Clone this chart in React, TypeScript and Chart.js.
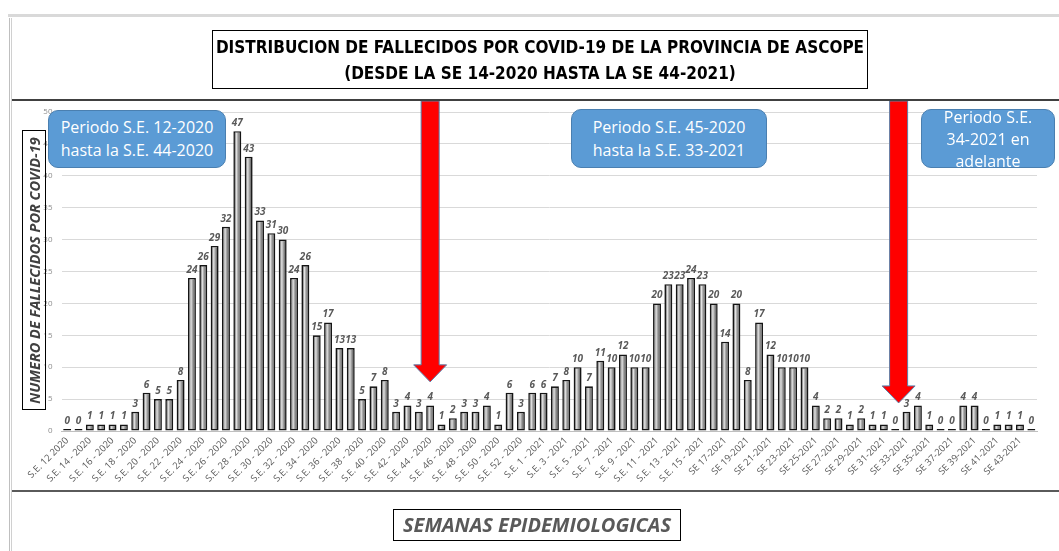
import React, { useEffect, useRef } from "react";
import { Chart, registerables } from "chart.js";
Chart.register(...registerables);

const weekLabels2020: string[] = [
  "S.E. 12 2020", "S.E. 13 - 2020", "S.E. 14 - 2020", "S.E. 15 - 2020", "S.E. 16 - 2020", "S.E. 17 - 2020",
  "S.E. 18 - 2020", "S.E. 19 - 2020", "S.E. 20 - 2020", "S.E. 21 - 2020", "S.E. 22 - 2020", "S.E. 23 - 2020",
  "S.E. 24 - 2020", "S.E. 25 - 2020", "S.E. 26 - 2020", "S.E. 27 - 2020", "S.E. 28 - 2020", "S.E. 29 - 2020",
  "S.E. 30 - 2020", "S.E. 31 - 2020", "S.E. 32 - 2020", "S.E. 33 - 2020", "S.E. 34 - 2020", "S.E. 35 - 2020",
  "S.E. 36 - 2020", "S.E. 37 - 2020", "S.E. 38 - 2020", "S.E. 39 - 2020", "S.E. 40 - 2020", "S.E. 41 - 2020",
  "S.E. 42 - 2020", "S.E. 43 - 2020", "S.E. 44 - 2020", "S.E. 45 - 2020", "S.E. 46 - 2020", "S.E. 47 - 2020",
  "S.E. 48 - 2020", "S.E. 49 - 2020", "S.E. 50 - 2020", "S.E. 51 - 2020", "S.E. 52 - 2020", "S.E. 53 - 2020",
];
const weekLabels2021: string[] = [
  "S.E. 1 - 2021", "S.E. 2 - 2021", "S.E. 3 - 2021", "S.E. 4 - 2021", "S.E. 5 - 2021", "S.E. 6 - 2021",
  "S.E. 7 - 2021", "S.E. 8 - 2021", "S.E. 9 - 2021", "S.E. 10 - 2021", "S.E. 11 - 2021", "S.E. 12 - 2021",
  "S.E. 13 - 2021", "S.E. 14 - 2021", "S.E. 15 - 2021", "S.E. 16 - 2021", "SE 17-2021", "SE 18-2021",
  "SE 19-2021", "SE 20-2021", "SE 21-2021", "SE 22-2021", "SE 23-2021", "SE 24-2021", "SE 25-2021",
  "SE 26-2021", "SE 27-2021", "SE 28-2021", "SE 29-2021", "SE 30-2021", "SE 31-2021", "SE 32-2021",
  "SE 33-2021", "SE 34-2021", "SE 35-2021", "SE 36-2021", "SE 37-2021", "SE 38-2021", "SE 39-2021",
  "SE 40-2021", "SE 41-2021", "SE 42-2021", "SE 43-2021", "SE 44-2021",
];

const deaths2020: number[] = [
  0, 0, 1, 1, 1, 1, 3, 6, 5, 5, 8, 24, 26, 29, 32, 47, 43, 33, 31, 30, 24, 26,
  15, 17, 13, 13, 5, 7, 8, 3, 4, 3, 4, 1, 2, 3, 3, 4, 1, 6, 3, 6,
];
const deaths2021: number[] = [
  6, 7, 8, 10, 7, 11, 10, 12, 10, 10, 20, 23, 23, 24, 23, 20, 14, 20, 8, 17, 12, 10,
  10, 10, 4, 2, 2, 1, 2, 1, 1, 0, 3, 4, 1, 0, 0, 4, 4, 0, 1, 1, 1, 0,
];

const yTicks = { min: 0, max: 50, step: 5 };

const labels = [...weekLabels2020, ...weekLabels2021];
const values = [...deaths2020, ...deaths2021];

// arrows: category index they point at, and the value where the tip sits
const arrowMarks = [
  { index: 32, tipValue: 7.7 },
  { index: 73.3, tipValue: 4.4 },
];

const FONT = '"Open Sans", "DejaVu Sans", sans-serif';

const barShade = {
  id: "barShade",
  afterDatasetsDraw(chart: any) {
    const ctx = chart.ctx;
    const meta = chart.getDatasetMeta(0);
    meta.data.forEach((el: any) => {
      const { x, y, base, width } = el.getProps(["x", "y", "base", "width"], true);
      const l = x - width / 2;
      const top = Math.min(y, base);
      const bot = Math.max(y, base);
      if (bot - top < 4) return;
      const g = ctx.createLinearGradient(l + 1.6, 0, l + width - 1.6, 0);
      g.addColorStop(0, "#7a7a7a");
      g.addColorStop(0.3, "#e6e6e6");
      g.addColorStop(0.55, "#b0b0b0");
      g.addColorStop(1, "#6a6a6a");
      ctx.save();
      ctx.fillStyle = g;
      ctx.fillRect(l + 1.6, top + 1.6, width - 3.2, bot - top - 3.2);
      ctx.restore();
    });
  },
};

const valueLabels = {
  id: "valueLabels",
  afterDatasetsDraw(chart: any) {
    const ctx = chart.ctx;
    const meta = chart.getDatasetMeta(0);
    ctx.save();
    ctx.font = `italic bold 10px ${FONT}`;
    ctx.fillStyle = "#595959";
    ctx.textAlign = "center";
    ctx.textBaseline = "bottom";
    meta.data.forEach((el: any, i: number) => {
      const { x, y } = el.getProps(["x", "y"], true);
      ctx.fillText(String(values[i]), x, y - 3);
    });
    ctx.restore();
  },
};

const arrows = {
  id: "arrows",
  afterDraw(chart: any) {
    const ctx = chart.ctx;
    const xs = chart.scales.x;
    const ys = chart.scales.y;
    arrowMarks.forEach((a) => {
      const cx = xs.getPixelForValue(a.index);
      const tip = ys.getPixelForValue(a.tipValue);
      const top = 101;
      const shaft = 9;
      const head = 16.5;
      const headH = 17;
      ctx.save();
      ctx.beginPath();
      ctx.moveTo(cx - shaft, top);
      ctx.lineTo(cx + shaft, top);
      ctx.lineTo(cx + shaft, tip - headH);
      ctx.lineTo(cx + head, tip - headH);
      ctx.lineTo(cx, tip);
      ctx.lineTo(cx - head, tip - headH);
      ctx.lineTo(cx - shaft, tip - headH);
      ctx.closePath();
      ctx.fillStyle = "#ff0000";
      ctx.fill();
      ctx.strokeStyle = "#5b7ea8";
      ctx.lineWidth = 1;
      ctx.stroke();
      ctx.restore();
    });
  },
};

const blueBox: React.CSSProperties = {
  position: "absolute",
  background: "#5b9bd5",
  border: "1px solid #4a7fb0",
  borderRadius: 10,
  color: "#ffffff",
  fontFamily: FONT,
  fontSize: 16,
  lineHeight: "23px",
  textAlign: "center",
  boxSizing: "border-box",
  overflow: "hidden",
  whiteSpace: "nowrap",
};

export default function App() {
  const canvasRef = useRef<HTMLCanvasElement | null>(null);

  useEffect(() => {
    const canvas = canvasRef.current;
    if (!canvas) return;
    const chart = new Chart(canvas, {
      type: "bar",
      data: {
        labels,
        datasets: [
          {
            data: values,
            backgroundColor: "#a6a6a6",
            borderColor: "#151515",
            borderWidth: 1.6,
            borderSkipped: false,
            minBarLength: 2,
            barPercentage: 0.7,
            categoryPercentage: 1,
          },
        ],
      },
      options: {
        responsive: false,
        animation: false,
        layout: { padding: { left: 31.5, right: 22, top: 112, bottom: 60 } },
        plugins: { legend: { display: false }, tooltip: { enabled: false } },
        scales: {
          x: {
            grid: { display: false, drawTicks: false },
            border: { color: "#bfbfbf", width: 1 },
            ticks: {
              autoSkip: false,
              minRotation: 45,
              maxRotation: 45,
              padding: 4,
              color: "#595959",
              font: { size: 9.5, family: FONT },
              callback: (_v: any, i: number) => (i % 2 === 0 ? labels[i] : ""),
            },
            afterFit: (s: any) => {
              s.height = 60;
            },
          },
          y: {
            min: yTicks.min,
            max: yTicks.max,
            ticks: {
              stepSize: yTicks.step,
              padding: 9,
              color: "#8c8c8c",
              font: { size: 8, family: FONT },
            },
            grid: { color: "#d9d9d9", drawTicks: false },
            border: { display: false },
            afterFit: (s: any) => {
              s.width = 30;
            },
          },
        },
      },
      plugins: [barShade, valueLabels, arrows],
    });
    return () => chart.destroy();
  }, []);

  return (
    <div
      style={{
        position: "fixed",
        left: 0,
        top: 0,
        width: 1059,
        height: 551,
        background: "#ffffff",
        overflow: "hidden",
      }}
    >
      <canvas
        ref={canvasRef}
        width={1059}
        height={551}
        style={{ position: "absolute", left: 0, top: 0, width: 1059, height: 551 }}
      />
      {/* frame lines */}
      <div style={{ position: "absolute", left: 8, top: 14, width: 1051, height: 3, background: "#d9d9d9" }} />
      <div style={{ position: "absolute", left: 9, top: 18, width: 1, height: 533, background: "#bfbfbf" }} />
      <div style={{ position: "absolute", left: 11, top: 18, width: 1, height: 533, background: "#d0d0d0" }} />
      <div style={{ position: "absolute", left: 12, top: 99, width: 1047, height: 2, background: "#404040" }} />
      <div style={{ position: "absolute", left: 12, top: 490, width: 1047, height: 2, background: "#5a5a5a" }} />
      {/* title */}
      <div
        style={{
          position: "absolute",
          left: 212,
          top: 30,
          width: 656,
          height: 59,
          border: "1.5px solid #000",
          boxSizing: "border-box",
          fontFamily: '"Liberation Sans Narrow", "DejaVu Sans Condensed", sans-serif',
          fontWeight: "bold",
          fontSize: 17,
          lineHeight: "26px",
          textAlign: "center",
          color: "#000",
          paddingTop: 3,
          whiteSpace: "nowrap",
        }}
      >
        DISTRIBUCION DE FALLECIDOS POR COVID-19 DE LA PROVINCIA DE ASCOPE
        <br />
        (DESDE LA SE 14-2020 HASTA LA SE 44-2021)
      </div>
      {/* y title */}
      <div
        style={{
          position: "absolute",
          left: 22,
          top: 130,
          width: 24,
          height: 280,
          border: "1.2px solid #000",
          boxSizing: "border-box",
          display: "flex",
          alignItems: "center",
          justifyContent: "center",
        }}
      >
        <div
          style={{
            transform: "rotate(-90deg)",
            whiteSpace: "nowrap",
            fontFamily: FONT,
            fontWeight: "bold",
            fontStyle: "italic",
            fontSize: 14.5,
            color: "#404040",
          }}
        >
          NUMERO DE FALLECIDOS POR COVID-19
        </div>
      </div>
      {/* x title */}
      <div
        style={{
          position: "absolute",
          left: 393,
          top: 509,
          width: 288,
          height: 32,
          border: "1.2px solid #000",
          boxSizing: "border-box",
          fontFamily: FONT,
          fontWeight: "bold",
          fontStyle: "italic",
          fontSize: 20,
          lineHeight: "30px",
          textAlign: "center",
          color: "#595959",
          whiteSpace: "nowrap",
        }}
      >
        SEMANAS EPIDEMIOLOGICAS
      </div>
      {/* period boxes */}
      <div style={{ ...blueBox, left: 48, top: 110, width: 178, height: 58, paddingTop: 5 }}>
        Periodo S.E. 12-2020
        <br />
        hasta la S.E. 44-2020
      </div>
      <div style={{ ...blueBox, left: 571, top: 109, width: 196, height: 59, paddingTop: 6 }}>
        Periodo S.E. 45-2020
        <br />
        hasta la S.E. 33-2021
      </div>
      <div
        style={{
          ...blueBox,
          left: 921,
          top: 109,
          width: 134,
          height: 59,
          lineHeight: "22px",
          paddingTop: 0,
          overflow: "visible",
        }}
      >
        <div style={{ marginTop: -4 }}>
          Periodo S.E.
          <br />
          34-2021 en
          <br />
          adelante
        </div>
      </div>
    </div>
  );
}
